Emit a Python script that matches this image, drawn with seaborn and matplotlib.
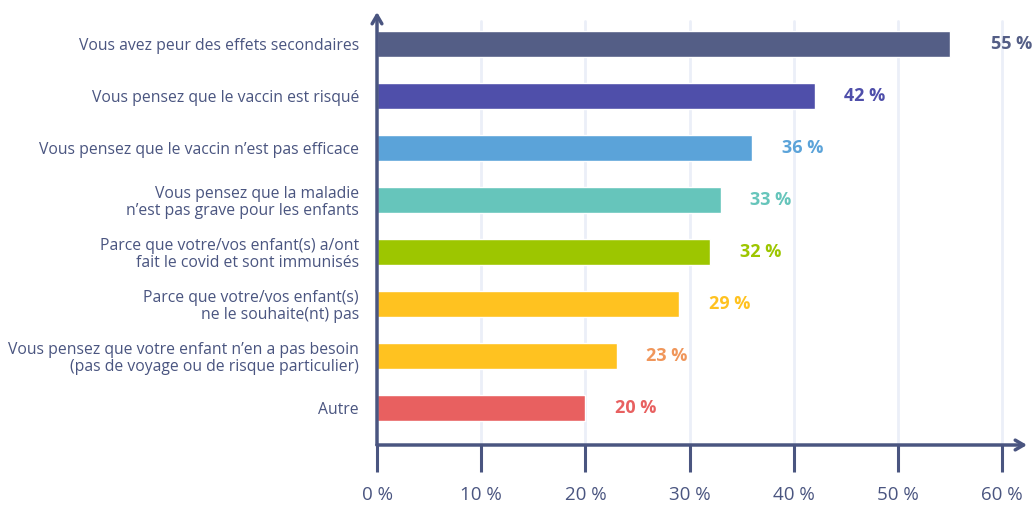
import numpy as np
import pandas as pd
import seaborn as sb
import matplotlib.pyplot as plt

raisons = [
    "Vous avez peur des effets secondaires",
    "Vous pensez que le vaccin est risqué",
    "Vous pensez que le vaccin n’est pas efficace",
    "Vous pensez que la maladie\nn’est pas grave pour les enfants",
    "Parce que votre/vos enfant(s) a/ont\nfait le covid et sont immunisés",
    "Parce que votre/vos enfant(s)\nne le souhaite(nt) pas",
    "Vous pensez que votre enfant n’en a pas besoin\n(pas de voyage ou de risque particulier)",
    "Autre",
]
pourcentages = [55, 42, 36, 33, 32, 29, 23, 20]
couleurs_barres = ["#545E86", "#4F4FAA", "#5BA3D9", "#66C5BB",
                   "#9DC600", "#FFC220", "#FFC220", "#E86060"]
couleurs_textes = ["#545E86", "#4F4FAA", "#5BA3D9", "#66C5BB",
                   "#9DC600", "#FFC220", "#F0965A", "#E86060"]
ticks_x = [0, 10, 20, 30, 40, 50, 60]

AXE = "#4A5580"

df = pd.DataFrame({"raison": raisons, "pct": pourcentages})

sb.set_style("white")
plt.rcParams["font.family"] = ["Open Sans", "DejaVu Sans"]

fig = plt.figure(figsize=(10.33, 5.08), dpi=100)
ax = fig.add_axes([377 / 1033, 63 / 508, 650 / 1033, 433 / 508])

sb.barplot(data=df, y="raison", x="pct", hue="raison", palette=couleurs_barres,
           saturation=1, orient="h", width=0.5, legend=False, ax=ax, zorder=3)

ax.set_xlim(0, 62.4)
ax.set_ylim(7.71, -0.615)

# grille verticale claire
for t in ticks_x[1:]:
    ax.plot([t, t], [7.71, -0.45], color="#EBEFF8", lw=2, zorder=1)

# etiquettes de valeurs
for i, (v, c) in enumerate(zip(pourcentages, couleurs_textes)):
    dx = 3.9 if v == 55 else 2.85
    ax.text(v + dx, i, f"{v} %", color=c, fontsize=13, fontweight="bold",
            va="center", ha="left")

for s in ax.spines.values():
    s.set_visible(False)

# axes avec fleches
ax.annotate("", xy=(0, 1.0), xytext=(0, 0), xycoords="axes fraction",
            arrowprops=dict(arrowstyle="->,head_length=0.6,head_width=0.35",
                            color=AXE, lw=2.5, shrinkA=0, shrinkB=0), zorder=5)
ax.annotate("", xy=(1.0, 0), xytext=(0, 0), xycoords="axes fraction",
            arrowprops=dict(arrowstyle="->,head_length=0.6,head_width=0.35",
                            color=AXE, lw=2.5, shrinkA=0, shrinkB=0), zorder=5)

ax.set_xticks(ticks_x)
ax.set_xticklabels([f"{t} %" for t in ticks_x])
ax.tick_params(axis="x", direction="out", length=19.5, width=2.2, color=AXE,
               labelcolor=AXE, labelsize=13.5, pad=10, bottom=True)
ax.tick_params(axis="y", length=0, labelcolor=AXE, labelsize=11.3, pad=13)
ax.set_xlabel("")
ax.set_ylabel("")
for lab in ax.get_yticklabels():
    lab.set_linespacing(1.05)

plt.savefig("out.png", dpi=100)
